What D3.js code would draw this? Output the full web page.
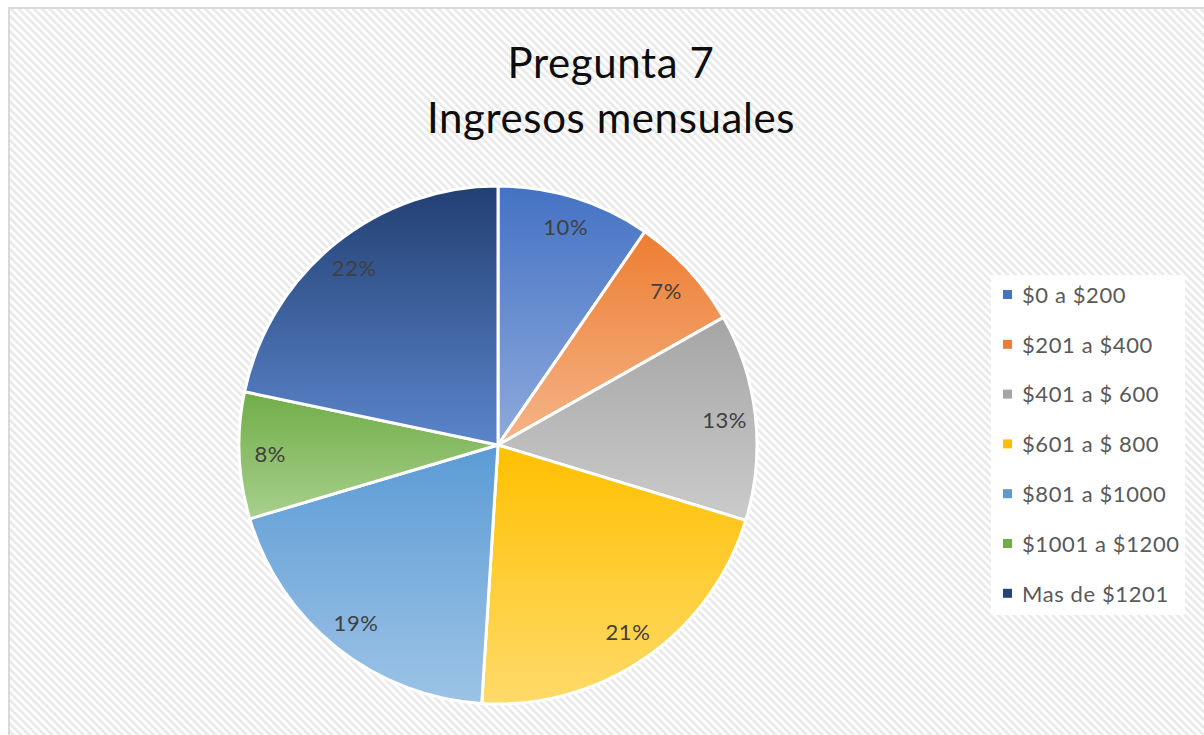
<!DOCTYPE html>
<html><head><meta charset="utf-8">
<script src="https://cdn.jsdelivr.net/npm/d3@7"></script>
<style>body{margin:0;background:#fff}svg{display:block}</style>
</head><body>
<svg id="chart" width="1204" height="735"></svg>
<script>
const titleLines = ["Pregunta 7", "Ingresos mensuales"];
const categories = ["$0 a $200", "$201 a $400", "$401 a $ 600", "$601 a $ 800", "$801 a $1000", "$1001 a $1200", "Mas de $1201"];
const values = [9.6, 7.2, 12.9, 21.3, 19.4, 7.9, 21.7];
const labels = ["10%", "7%", "13%", "21%", "19%", "8%", "22%"];
const topColors = ["#4472c4", "#ed7d31", "#a5a5a5", "#ffc000", "#5b9bd5", "#70ad47", "#223f72"];
const bottomColors = ["#8eaadc", "#f5b58a", "#cbcbcb", "#ffda6a", "#9dc3e6", "#a8d08d", "#5b85cb"];
const legendColors = ["#4472c4", "#ed7d31", "#a5a5a5", "#ffc000", "#5b9bd5", "#70ad47", "#264478"];

const svg = d3.select("#chart");
const defs = svg.append("defs");
const pat = defs.append("pattern").attr("id", "bg").attr("patternUnits", "userSpaceOnUse")
  .attr("width", 5.5).attr("height", 5.5).attr("patternTransform", "rotate(-45)");
pat.append("rect").attr("width", 5.5).attr("height", 5.5).attr("fill", "#ffffff");
pat.append("rect").attr("width", 2.6).attr("height", 5.5).attr("fill", "#e9e9e9");

categories.forEach((c, i) => {
  const g = defs.append("linearGradient").attr("id", "g" + i).attr("x1", 0).attr("y1", 0).attr("x2", 0).attr("y2", 1);
  g.append("stop").attr("offset", "0%").attr("stop-color", topColors[i]);
  g.append("stop").attr("offset", "100%").attr("stop-color", bottomColors[i]);
});

// frame
svg.append("rect").attr("x", 9).attr("y", 8).attr("width", 1204).attr("height", 740)
  .attr("fill", "url(#bg)").attr("stroke", "#d9d9d9").attr("stroke-width", 2);

// title
const title = svg.append("text").attr("text-anchor", "middle")
  .attr("font-family", "Lato, 'Open Sans', sans-serif").attr("font-size", 42)
  .attr("letter-spacing", 0.6).attr("fill", "#0d0d0d");
titleLines.forEach((t, i) => title.append("tspan").attr("x", 611).attr("y", 78 + i * 55).text(t));

// pie
const cx = 498, cy = 445, R = 259;
const pie = d3.pie().sort(null).value(d => d);
const arcs = pie(values);
const arc = d3.arc().innerRadius(0).outerRadius(R);
const labelArc = d3.arc().innerRadius(228).outerRadius(228);
const gp = svg.append("g").attr("transform", `translate(${cx},${cy})`);
gp.selectAll("path").data(arcs).join("path")
  .attr("d", arc).attr("fill", (d, i) => `url(#g${i})`)
  .attr("stroke", "#fff").attr("stroke-width", 3).attr("stroke-linejoin", "round");
gp.selectAll("text").data(arcs).join("text")
  .attr("transform", d => `translate(${labelArc.centroid(d)})`)
  .attr("text-anchor", "middle").attr("dy", "0.35em")
  .attr("font-family", "Lato, 'Open Sans', sans-serif").attr("font-size", 22)
  .attr("letter-spacing", 0.6).attr("fill", "#404040")
  .text((d, i) => labels[i]);

// legend
svg.append("rect").attr("x", 991).attr("y", 275).attr("width", 194).attr("height", 340).attr("fill", "#fff");
const lg = svg.append("g");
const rows = lg.selectAll("g").data(categories).join("g")
  .attr("transform", (d, i) => `translate(1003, ${295 + i * 49.8})`);
rows.append("rect").attr("x", 0).attr("y", -5).attr("width", 9).attr("height", 9)
  .attr("fill", (d, i) => legendColors[i]);
rows.append("text").attr("x", 19).attr("dy", "0.35em")
  .attr("font-family", "Lato, 'Open Sans', sans-serif").attr("font-size", 22)
  .attr("letter-spacing", 0.6).attr("fill", "#595959")
  .text(d => d);
</script>
</body></html>
